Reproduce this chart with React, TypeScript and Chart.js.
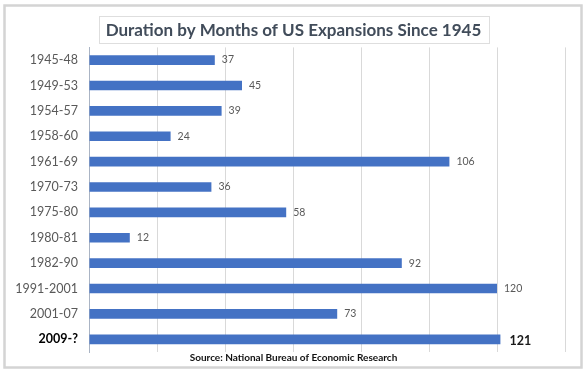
import React, { useEffect, useRef } from "react";
import { Chart, registerables } from "chart.js";

Chart.register(...registerables);

const categories = [
  "1945-48", "1949-53", "1954-57", "1958-60", "1961-69", "1970-73",
  "1975-80", "1980-81", "1982-90", "1991-2001", "2001-07", "2009-?",
];
const months = [37, 45, 39, 24, 106, 36, 58, 12, 92, 120, 73, 121];
const xTicks = [0, 20, 40, 60, 80, 100, 120, 140];
const titleText = "Duration by Months of US Expansions Since 1945";
const sourceText = "Source: National Bureau of Economic Research";

const FONT = "Lato, 'Open Sans', sans-serif";

const framePlugin = {
  id: "frame",
  beforeDraw(chart: any) {
    const { ctx, width, height } = chart;
    ctx.save();
    ctx.fillStyle = "#ffffff";
    ctx.fillRect(0, 0, width, height);
    ctx.strokeStyle = "#d4d4d4";
    ctx.lineWidth = 2.5;
    ctx.strokeRect(4.5, 5.5, width - 10, height - 10);
    ctx.restore();
  },
  afterDraw(chart: any) {
    const { ctx } = chart;
    const tb = chart.titleBlock;
    if (!tb) return;
    ctx.save();
    ctx.font = `700 17px ${FONT}`;
    const w = ctx.measureText(titleText).width;
    const cx = tb.left + tb.width / 2;
    const cy = tb.top + tb.options.padding.top + 10.2;
    ctx.strokeStyle = "#dedede";
    ctx.lineWidth = 1;
    ctx.strokeRect(Math.round(cx - w / 2 - 7) + 0.5, Math.round(cy - 14) + 0.5, Math.round(w + 14), 27);
    ctx.restore();
  },
};

const labelPlugin = {
  id: "barLabels",
  afterDatasetsDraw(chart: any) {
    const { ctx } = chart;
    const meta = chart.getDatasetMeta(0);
    ctx.save();
    ctx.textBaseline = "middle";
    ctx.textAlign = "left";
    meta.data.forEach((bar: any, i: number) => {
      const last = i === months.length - 1;
      ctx.font = last ? `700 12.5px ${FONT}` : `400 10.5px ${FONT}`;
      ctx.fillStyle = last ? "#1a1a1a" : "#595959";
      ctx.fillText(String(months[i]), bar.x + (last ? 9 : 7), bar.y + (last ? 1.5 : 0));
    });
    ctx.restore();
  },
};

export default function App() {
  const ref = useRef<HTMLCanvasElement>(null);
  useEffect(() => {
    if (!ref.current) return;
    const chart = new Chart(ref.current, {
      type: "bar",
      data: {
        labels: categories,
        datasets: [
          {
            data: months,
            backgroundColor: "#4472c4",
            borderWidth: 0,
            barPercentage: 0.38,
            categoryPercentage: 1,
          },
        ],
      },
      plugins: [framePlugin, labelPlugin],
      options: {
        indexAxis: "y",
        animation: false,
        responsive: false,
        maintainAspectRatio: false,
        layout: { padding: 0 },
        plugins: {
          legend: { display: false },
          tooltip: { enabled: false },
          title: {
            display: true,
            text: titleText,
            color: "#414c5a",
            font: { family: FONT, size: 17, weight: "700" },
            padding: { top: 20, bottom: 7 },
          },
          subtitle: {
            display: true,
            position: "bottom",
            text: sourceText,
            color: "#111111",
            font: { family: FONT, size: 10, weight: "700" },
            padding: { top: 0, bottom: 8 },
          },
        },
        scales: {
          x: {
            min: 0,
            max: 140,
            afterBuildTicks: (s: any) => {
              s.ticks = xTicks.map((v) => ({ value: v }));
            },
            ticks: { display: false },
            grid: { color: "#d9d9d9", drawTicks: false, lineWidth: 1 },
            border: { display: false },
          },
          y: {
            afterFit: (s: any) => {
              s.width = 89;
            },
            ticks: {
              padding: 11,
              color: (c: any) => (c.index === categories.length - 1 ? "#000000" : "#595959"),
              font: (c: any) =>
                c.index === categories.length - 1
                  ? { family: FONT, size: 12.5, weight: "700" }
                  : { family: FONT, size: 12.5, weight: "400" },
            },
            grid: { display: false, drawTicks: false },
            border: { display: true, color: "#aab4c4", width: 1 },
          },
          yRight: {
            type: "category",
            position: "right",
            labels: categories,
            afterFit: (s: any) => {
              s.width = 22;
            },
            ticks: { display: false },
            grid: { display: false, drawTicks: false },
            border: { display: false },
          },
        },
      },
    });
    return () => chart.destroy();
  }, []);
  return (
    <div style={{ position: "fixed", left: 0, top: 0, width: 587, height: 372 }}>
      <canvas ref={ref} width={587} height={372} style={{ display: "block" }} />
    </div>
  );
}
